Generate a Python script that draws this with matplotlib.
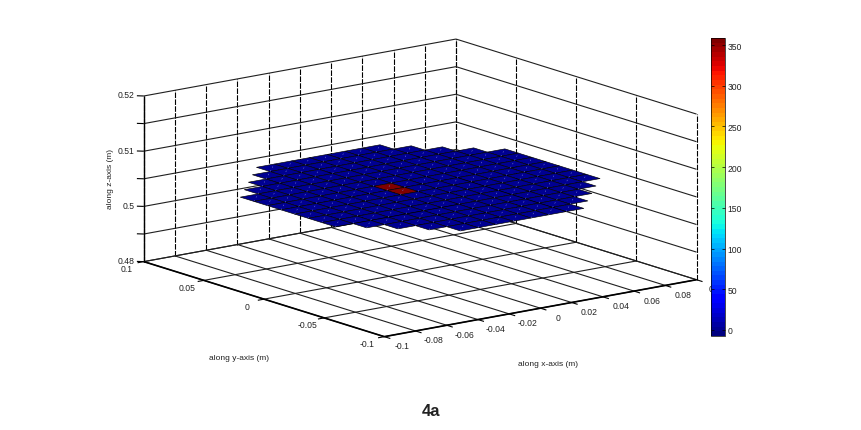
import numpy as np
import matplotlib
matplotlib.use('Agg')
import matplotlib.pyplot as plt
from matplotlib.cm import ScalarMappable
from matplotlib.colors import Normalize
from mpl_toolkits.mplot3d import proj3d
from mpl_toolkits.mplot3d.art3d import Line3DCollection, Poly3DCollection

plt.rcParams['font.family'] = ['Liberation Sans', 'DejaVu Sans']

# Axis ticks
x_ticks = [-0.1, -0.08, -0.06, -0.04, -0.02, 0, 0.02, 0.04, 0.06, 0.08, 0.1]
x_labels = ['-0.1', '-0.08', '-0.06', '-0.04', '-0.02', '0', '0.02', '0.04', '0.06', '0.08', '0.1']
y_ticks = [-0.1, -0.05, 0, 0.05, 0.1]
y_labels = ['-0.1', '-0.05', '0', '0.05', '0.1']
z_ticks = [0.49, 0.495, 0.5, 0.505, 0.51, 0.515, 0.52]
z_labels = ['0.48', '', '0.5', '', '0.51', '', '0.52']
cbar_ticks = [0, 50, 100, 150, 200, 250, 300, 350]

# Plate cell edges and height
x_edges = [-0.08475, -0.07345, -0.06215, -0.05085, -0.03955, -0.02825, -0.01695, -0.00565,
           0.00565, 0.01695, 0.02825, 0.03955, 0.05085, 0.06215, 0.07345, 0.08475]
y_edges = x_edges
plate_z = 0.505

# Cell values, one row per y cell, low y first
n = np.nan
cells = [
    [n, n, n, n, 0, 0, 0, 0, 0, 0, 0, n, n, n, n],
    [n, n, n, 0, 0, 0, 0, 0, 0, 0, 0, 0, n, n, n],
    [n, n, 0, 0, 0, 0, 0, 0, 0, 0, 0, 0, 0, n, n],
    [n, 0, 0, 0, 0, 0, 0, 0, 0, 0, 0, 0, 0, 0, n],
    [0, 0, 0, 0, 0, 0, 0, 0, 0, 0, 0, 0, 0, 0, 0],
    [0, 0, 0, 0, 0, 0, 0, 0, 0, 0, 0, 0, 0, 0, 0],
    [0, 0, 0, 0, 0, 0, 0, 0, 0, 0, 0, 0, 0, 0, 0],
    [0, 0, 0, 0, 0, 0, 358, 0, 0, 0, 0, 0, 0, 0, 0],
    [0, 0, 0, 0, 0, 0, 358, 0, 0, 0, 0, 0, 0, 0, 0],
    [0, 0, 0, 0, 0, 0, 0, 0, 0, 0, 0, 0, 0, 0, 0],
    [0, 0, 0, 0, 0, 0, 0, 0, 0, 0, 0, 0, 0, 0, 0],
    [n, 0, 0, 0, 0, 0, 0, 0, 0, 0, 0, 0, 0, 0, n],
    [n, n, 0, 0, 0, 0, 0, 0, 0, 0, 0, 0, 0, n, n],
    [n, n, n, 0, 0, 0, 0, 0, 0, 0, 0, 0, n, n, n],
    [n, n, n, n, 0, 0, 0, 0, 0, 0, 0, n, n, n, n],
]

x0, x1 = -0.1, 0.1
y0, y1 = -0.1, 0.1
z0, z1 = 0.49, 0.52
c0, c1 = -7.4, 358.6

W, H = 862, 431
fig = plt.figure(figsize=(W / 100, H / 100), dpi=100)

# Square 3D axes centred on the box, bigger than the figure so nothing is clipped
ax = fig.add_axes([-22.5 / W, -200.5 / H, 1, 2], projection='3d',
                  proj_type='ortho', computed_zorder=False)
ax.view_init(elev=13.8, azim=-127.4)
ax.set_box_aspect((394, 397, 171), zoom=0.657)
ax.set_axis_off()

dash = (0, (5, 1.2))
grid_c = '#202020'


def line(xs, ys, zs, **kw):
    kw.setdefault('color', grid_c)
    kw.setdefault('lw', 0.8)
    kw.setdefault('zorder', 1)
    ax.plot(xs, ys, zs, solid_capstyle='butt', **kw)


# Back walls
for x in x_ticks:
    line([x, x], [y1, y1], [z0, z1], color='black', ls=dash)
    line([x, x], [y0, y1], [z0, z0])
for y in y_ticks:
    line([x1, x1], [y, y], [z0, z1], color='black', ls=dash)
    line([x0, x1], [y, y], [z0, z0])
for z in z_ticks:
    line([x0, x1], [y1, y1], [z, z])
    line([x1, x1], [y0, y1], [z, z])

# Box edges
line([x0, x0], [y1, y1], [z0, z1], color='black', lw=1.0, zorder=2)
line([x0, x1], [y0, y0], [z0, z0], color='black', lw=1.2, zorder=2)
line([x0, x0], [y0, y1], [z0, z0], color='black', lw=1.2, zorder=2)

# Tick marks
for x in x_ticks:
    line([x, x], [y0, y0 - 0.005], [z0, z0], color='black', zorder=2)
for y in y_ticks:
    line([x0, x0 - 0.004], [y, y], [z0, z0], color='black', zorder=2)
for z in z_ticks:
    line([x0, x0 - 0.0025], [y1, y1 + 0.0025], [z, z], color='black', zorder=2)

# Plate
norm = Normalize(c0, c1)
cmap = plt.get_cmap('jet', 64)
polys, vals, seams = [], [], []
for j, row in enumerate(cells):
    for i, v in enumerate(row):
        if np.isnan(v):
            continue
        polys.append([(x_edges[i], y_edges[j], plate_z),
                      (x_edges[i + 1], y_edges[j], plate_z),
                      (x_edges[i + 1], y_edges[j + 1], plate_z),
                      (x_edges[i], y_edges[j + 1], plate_z)])
        seams.append([(x_edges[i], y_edges[j], plate_z),
                      (x_edges[i + 1], y_edges[j + 1], plate_z)])
        vals.append(v)
plate = Poly3DCollection(polys, cmap=cmap, norm=norm, edgecolors='black',
                         linewidths=0.45, zorder=3)
plate.set_array(np.array(vals))
ax.add_collection3d(plate)
# Light seams across the cells
ax.add_collection3d(Line3DCollection(seams, colors='#7f88d8', linewidths=0.35,
                                     linestyles=[(0, (3, 6))], zorder=4))

ax.set_xlim(x0, x1)
ax.set_ylim(y0, y1)
ax.set_zlim(z0, z1)


# Text placed next to projected 3D points
def label(x, y, z, s, dx, dy, ha='center'):
    px, py, _ = proj3d.proj_transform(x, y, z, ax.get_proj())
    ax.annotate(s, (px, py), xytext=(dx * 0.72, dy * 0.72), textcoords='offset points',
                ha=ha, va='center', fontsize=6.2, color='#222222', zorder=4)


for x, s in zip(x_ticks, x_labels):
    label(x, y0, z0, s, 18, -9)
for y, s in zip(y_ticks, y_labels):
    label(x0, y, z0, s, -17, -7)
for z, s in zip(z_ticks, z_labels):
    label(x0, y1, z, s, -9, 1, ha='right')

fig.text(239 / W, 1 - 359 / H, 'along y-axis (m)', fontsize=6, ha='center', va='center', color='#222222')
fig.text(548 / W, 1 - 365 / H, 'along x-axis (m)', fontsize=6, ha='center', va='center', color='#222222')
fig.text(111 / W, 1 - 179 / H, 'along z-axis (m)', fontsize=6, rotation=90, ha='center', va='center', color='#222222')
fig.text(431 / W, 1 - 412 / H, '4a', fontsize=12, fontweight='bold', ha='center', va='center', color='#222222')

# Colorbar
cax = fig.add_axes([711 / W, 1 - 337 / H, 14 / W, 298 / H])
cb = fig.colorbar(ScalarMappable(norm=norm, cmap=cmap), cax=cax)
cb.set_ticks(cbar_ticks)
cb.outline.set_linewidth(0.5)
cax.tick_params(direction='in', length=2, width=0.5, left=True, right=True, labelsize=6.2,
                pad=2, labelcolor='#222222')

fig.savefig('out.png', dpi=100)
